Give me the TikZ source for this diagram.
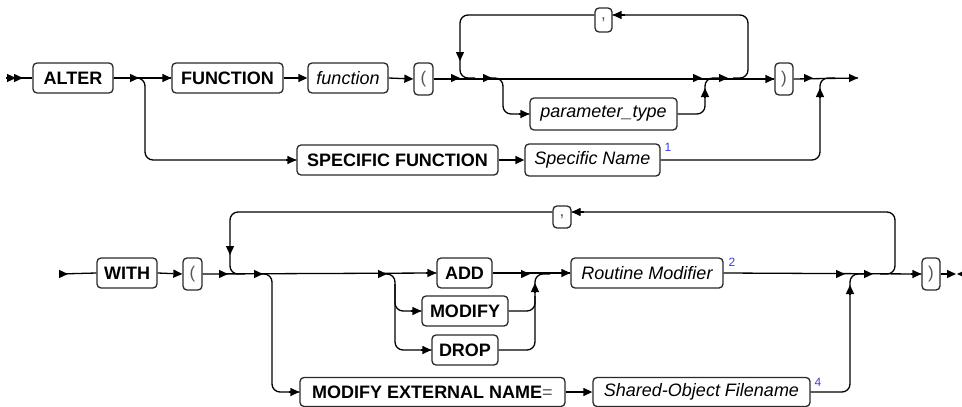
\documentclass[tikz,border=0pt]{standalone}
\usepackage{fontspec}
\setmainfont{Liberation Sans}
\usetikzlibrary{arrows.meta,calc}
\definecolor{boxc}{HTML}{2A2A2A}
\definecolor{supc}{HTML}{3C3CE0}
\definecolor{punc}{HTML}{555555}
\tikzset{
  bx/.style={draw=boxc, line width=1.3pt, rounded corners=4pt, inner sep=0pt, minimum height=30pt, fill=white},
  kw/.style={bx, font=\bfseries\fontsize{18}{20}\selectfont},
  var/.style={bx, font=\itshape\fontsize{18}{20}\selectfont},
  pun/.style={bx, minimum height=32pt, text=punc, font=\fontsize{17}{19}\selectfont},
  ln/.style={draw=black, line width=1.3pt, rounded corners=8pt},
  arr/.style={draw=black, line width=1.3pt, -{Triangle[length=9pt,width=8pt]}},
  supnum/.style={text=supc, font=\fontsize{12}{13}\selectfont, inner sep=0pt}
}
\begin{document}
\begin{tikzpicture}[x=1pt,y=-1pt]
\useasboundingbox (0,0) rectangle (962,407);
% ---------- top row ----------
\node[kw, minimum width=80pt] (alter) at (73,78) {ALTER};
\node[kw, minimum width=111pt] (func) at (227.5,78) {FUNCTION};
\node[var, minimum width=80pt] (fn) at (348,78) {function};
\node[pun, minimum width=19pt] (lp1) at (423.5,79) {(};
\node[pun, minimum width=17pt, minimum height=24pt] (comma1) at (603.5,20) {,};
\node[var, minimum width=147pt, minimum height=32pt] (ptype) at (603.5,114) {parameter\_type};
\node[pun, minimum width=18pt] (rp1) at (784,79) {)};
\node[kw, minimum width=201pt] (spec) at (397.5,160) {SPECIFIC FUNCTION};
\node[var, minimum width=135pt, minimum height=32pt] (sname) at (592.5,160) {Specific Name};
\node[supnum] (s1) at (668,147) {1};

\coordinate (st1) at (6,78);
\coordinate (j1) at (145,78);
\coordinate (k1) at (145,160);
\coordinate (p1) at (460,78);
\coordinate (lt1) at (460,15);
\coordinate (j2) at (503,78);
\coordinate (k2) at (503,114);
\coordinate (m1) at (705,78);
\coordinate (n1) at (705,114);
\coordinate (l1) at (748,78);
\coordinate (rt1) at (748,15);
\coordinate (m2) at (820,78);
\coordinate (n2) at (820,160);
\coordinate (e1) at (858,78);

% main line
\draw[ln] (st1) -- (alter.west);
\draw[arr] (st1) -- ++(10,0);
\draw[arr] ($(st1)+(7,0)$) -- ++(10,0);
\draw[ln] (alter.east) -- (func.west);
\draw[arr] ($(j1)+(-15,0)$) -- ++(9,0);
\draw[arr] ($(func.west)+(-10,0)$) -- (func.west);
\draw[ln] (alter.east) -| (k1) -- (spec.west);
\draw[arr] ($(spec.west)+(-10,0)$) -- (spec.west);
\draw[arr] (func.east) -- (fn.west);
\draw[arr] (fn.east) -- (lp1.west);
\draw[ln] (lp1.east) -- (rp1.west);
\draw[arr] ($(p1)+(-9,0)$) -- (p1);
\draw[arr] ($(j2)+(-20,0)$) -- ++(9,0);
\draw[arr] ($(m1)+(-12,0)$) -- ++(9,0);
\draw[arr] ($(l1)+(-29,0)$) -- ++(9,0);
\draw[arr] ($(rp1.west)+(-10,0)$) -- (rp1.west);
% comma loop
\draw[ln] ($(l1)+(-15,0)$) -- (l1) -- (rt1) -- (comma1.east |- rt1);
\draw[arr] ($(comma1.east |- rt1)+(12,0)$) -- (comma1.east |- rt1);
\draw[ln] (comma1.west |- lt1) -- (lt1) -- (p1) -- ++(15,0);
\draw[arr] ($(lt1)+(0,37)$) -- ++(0,9);
% parameter_type branch
\draw[ln] ($(j2)+(-15,0)$) -- (j2) -- (k2) -- (ptype.west);
\draw[arr] ($(ptype.west)+(-10,0)$) -- (ptype.west);
\draw[ln] (ptype.east) -- (n1) -- (m1) -- ++(15,0);
\draw[arr] ($(m1)+(0,19)$) -- ++(0,-9);
% after )
\draw[ln] (rp1.east) -- (e1);
\draw[arr] ($(m2)+(-16,0)$) -- ++(9,0);
\draw[arr] ($(e1)+(-9,0)$) -- (e1);
% specific name
\draw[arr] (spec.east) -- (sname.west);
\draw[ln] (sname.east) -- (n2) -- (m2) -- ++(15,0);
\draw[arr] ($(m2)+(0,19)$) -- ++(0,-9);

% ---------- bottom row ----------
\node[kw, minimum width=60pt] (with) at (127,273) {WITH};
\node[pun, minimum width=19pt] (lp2) at (192.5,274) {(};
\node[pun, minimum width=18pt, minimum height=22pt] (comma2) at (562,217) {,};
\node[kw, minimum width=55pt] (add) at (464.5,273) {ADD};
\node[kw, minimum width=86pt] (modify) at (465,311) {MODIFY};
\node[kw, minimum width=66pt] (drop) at (465,350) {DROP};
\node[var, minimum width=152pt] (rmod) at (647,273) {Routine Modifier};
\node[supnum] (s2) at (732,262) {2};
\node[pun, minimum width=18pt] (rp2) at (931,274) {)};
\node[kw, minimum width=265pt, minimum height=29pt] (men) at (432.5,392) {MODIFY EXTERNAL NAME{\color{punc}\mdseries =}};
\node[var, minimum width=217pt, minimum height=29pt] (sof) at (701.5,392) {Shared-Object Filename};
\node[supnum] (s4) at (818,382) {4};

\coordinate (st2) at (59,274);
\coordinate (p2) at (230,274);
\coordinate (lt2) at (230,212);
\coordinate (j3) at (272,274);
\coordinate (k3) at (272,392);
\coordinate (j4) at (395,274);
\coordinate (m3) at (535,274);
\coordinate (m4) at (850,274);
\coordinate (n4) at (850,392);
\coordinate (l2) at (895,274);
\coordinate (rt2) at (895,212);
\coordinate (e2) at (956,274);

\draw[ln] (st2) -- (with.west);
\draw[arr] (st2) -- ++(9,0);
\draw[arr] (with.east) -- (lp2.west);
\draw[ln] (lp2.east) -- (add.west);
\draw[arr] ($(p2)+(-11,0)$) -- ++(9,0);
\draw[arr] ($(j3)+(-18,0)$) -- ++(9,0);
\draw[arr] ($(j4)+(-17,0)$) -- ++(9,0);
\draw[arr] ($(add.west)+(-10,0)$) -- (add.west);
% comma loop
\draw[ln] ($(l2)+(-15,0)$) -- (l2) -- (rt2) -- (comma2.east |- rt2);
\draw[arr] ($(comma2.east |- rt2)+(12,0)$) -- (comma2.east |- rt2);
\draw[ln] (comma2.west |- lt2) -- (lt2) -- (p2) -- ++(15,0);
\draw[arr] ($(lt2)+(0,34)$) -- ++(0,9);
% external name branch
\draw[ln] ($(j3)+(-15,0)$) -- (j3) -- (k3) -- (men.west);
\draw[arr] ($(men.west)+(-10,0)$) -- (men.west);
% modify / drop branches
\draw[ln] ($(j4)+(-15,0)$) -- (j4) -- (j4 |- drop.west) -- (drop.west);
\draw[ln] ($(j4)+(0,10)$) -- (j4 |- modify.west) -- (modify.west);
\draw[arr] ($(modify.west)+(-10,0)$) -- (modify.west);
\draw[arr] ($(drop.west)+(-10,0)$) -- (drop.west);
% merge after add/modify/drop
\draw[ln] (add.east) -- (rmod.west);
\draw[arr] ($(m3)+(-14,0)$) -- ++(9,0);
\draw[arr] ($(rmod.west)+(-10,0)$) -- (rmod.west);
\draw[ln] (drop.east) -- (m3 |- drop.west) -- (m3) -- ++(15,0);
\draw[ln] (modify.east) -- (m3 |- modify.west) -- ++(0,-15);
\draw[arr] ($(m3)+(0,18)$) -- ++(0,-9);
% after routine modifier
\draw[ln] (rmod.east) -- (rp2.west);
\draw[arr] ($(m4)+(-14,0)$) -- ++(9,0);
\draw[arr] ($(l2)+(-31,0)$) -- ++(9,0);
\draw[arr] ($(rp2.west)+(-10,0)$) -- (rp2.west);
\draw[arr] (men.east) -- (sof.west);
\draw[ln] (sof.east) -- (n4) -- (m4) -- ++(15,0);
\draw[arr] ($(m4)+(0,20)$) -- ++(0,-9);
% end
\draw[arr] (rp2.east) -- (e2);
\draw[arr] ($(e2)+(10,0)$) -- ++(-9,0);
\end{tikzpicture}
\end{document}
